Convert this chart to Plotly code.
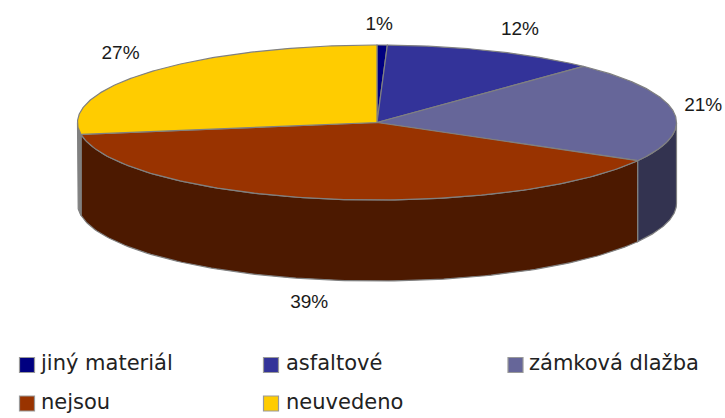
import numpy as np
import plotly.graph_objects as go

categories = ["jiný materiál", "asfaltové", "zámková dlažba", "nejsou", "neuvedeno"]
values = [0.55, 11.55, 21.1, 39.35, 27.45]
top_colors = ["#000080", "#333399", "#666699", "#993300", "#FFCC00"]
side_colors = ["#000033", "#1A1A4D", "#333350", "#4C1900", "#808080"]

# layout of the projected pie, in pixels of the 725x418 page
CX, CY, RX, RY, DEPTH = 377, 122.5, 299.5, 77.5, 81
LABEL_OFFSETS = [(-3, -20), (27, -21), (30, -5), (-14, 24), (-29, -18)]
SWATCH_X = [27, 271, 515.5, 27, 271]
TEXT_X = [41, 286, 529, 41, 286]
LEGEND_Y = [365, 365, 365, 403.5, 403.5]
EDGE = "#808080"
FONT = "Liberation Sans"


def ell(theta, dy=0.0):
    return CX + RX * np.sin(theta), CY - RY * np.cos(theta) + dy


fig = go.Figure()
cum = np.cumsum([0] + values) / sum(values) * 2 * np.pi

# side walls (only the front half of the rim is visible)
for i in range(len(values)):
    a, b = max(cum[i], np.pi / 2), min(cum[i + 1], 3 * np.pi / 2)
    if b <= a:
        continue
    t = np.linspace(a, b, 120)
    x0, y0 = ell(t)
    x1, y1 = ell(t[::-1], DEPTH)
    fig.add_trace(go.Scatter(x=np.r_[x0, x1, x0[0]], y=np.r_[y0, y1, y0[0]], mode="lines",
                             fill="toself", fillcolor=side_colors[i],
                             line=dict(color=EDGE, width=1.2), hoverinfo="skip", showlegend=False))

# top faces
for i in range(len(values)):
    t = np.linspace(cum[i], cum[i + 1], 160)
    x0, y0 = ell(t)
    fig.add_trace(go.Scatter(x=np.r_[CX, x0, CX], y=np.r_[CY, y0, CY], mode="lines",
                             fill="toself", fillcolor=top_colors[i], name=categories[i],
                             line=dict(color=EDGE, width=1.2), hoverinfo="skip", showlegend=False))

# percentage labels, anchored on each slice's rim
mids = (cum[:-1] + cum[1:]) / 2
lx, ly = ell(mids)
lx = lx + np.array([o[0] for o in LABEL_OFFSETS])
ly = ly + np.array([o[1] for o in LABEL_OFFSETS])
ly[3] += DEPTH
fig.add_trace(go.Scatter(x=lx, y=ly, mode="text", text=[f"{round(v)}%" for v in values],
                         textposition="middle center", cliponaxis=False,
                         textfont=dict(family=FONT, size=19, color="#1a1a1a"),
                         hoverinfo="skip", showlegend=False))

# legend
fig.add_trace(go.Scatter(x=SWATCH_X, y=LEGEND_Y, mode="markers", cliponaxis=False,
                         marker=dict(symbol="square", size=15, color=top_colors,
                                     line=dict(color="#999999", width=1.2)),
                         hoverinfo="skip", showlegend=False))
fig.add_trace(go.Scatter(x=TEXT_X, y=LEGEND_Y, mode="text", text=categories,
                         textposition="middle right", cliponaxis=False,
                         textfont=dict(family="DejaVu Sans", size=21, color="#222222"),
                         hoverinfo="skip", showlegend=False))

fig.update_layout(
    width=725, height=418, margin=dict(l=0, r=0, t=0, b=0),
    paper_bgcolor="white", plot_bgcolor="white", showlegend=False,
    xaxis=dict(range=[0, 725], visible=False, fixedrange=True),
    yaxis=dict(range=[418, 0], visible=False, fixedrange=True),
)
fig.write_html("out.html", config={"displayModeBar": False},
               post_script="document.body.style.margin='0';document.documentElement.style.overflow='hidden';")
